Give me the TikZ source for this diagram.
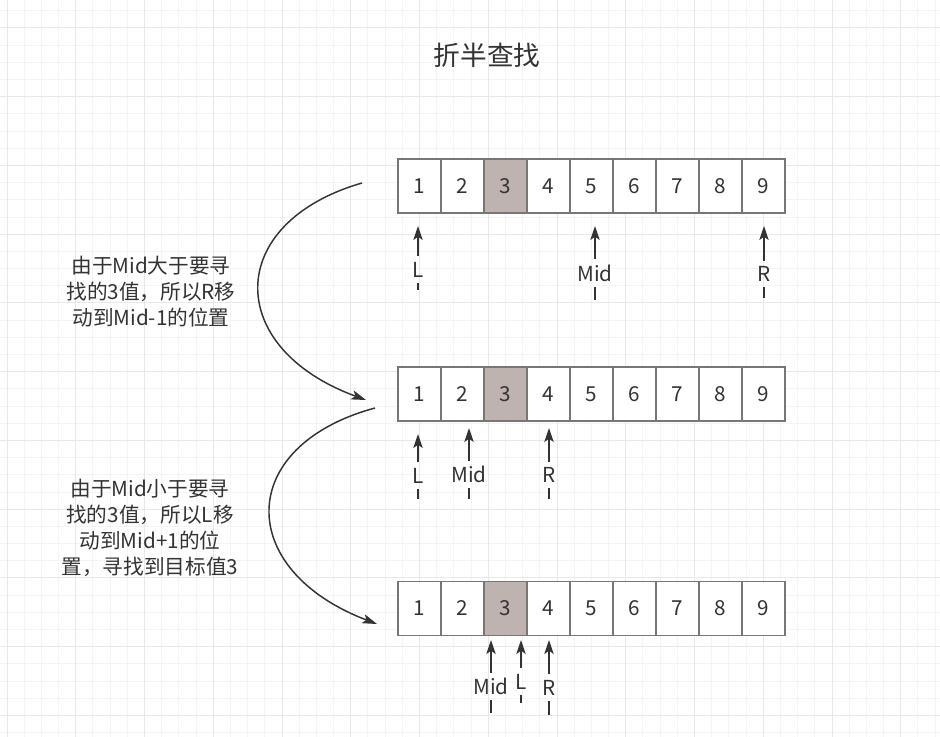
\documentclass[tikz,border=0pt]{standalone}
\usepackage{fontspec}
\setmainfont{Noto Sans CJK SC}
\usepackage{xcolor}
\usetikzlibrary{arrows.meta,positioning,calc}

\definecolor{gridminor}{HTML}{F4F4F4}
\definecolor{gridmajor}{HTML}{E8E8E8}
\definecolor{ink}{HTML}{333333}
\definecolor{cellline}{HTML}{777777}
\definecolor{cellhit}{HTML}{BEB3AF}

\tikzset{
  cell/.style={draw=cellline,line width=1pt,fill=white,minimum width=32.25pt,
    minimum height=40.5pt,inner sep=0pt,outer sep=0pt,text=ink,
    font=\fontsize{15.5}{18}\selectfont},
  hit/.style={cell,fill=cellhit},
  lbl/.style={inner xsep=1pt,inner ysep=4pt,text=ink,
    font=\fontsize{15.5}{18}\selectfont},
  ptr/.style={draw=ink,line width=1.3pt,
    -{Stealth[length=10.5pt,width=7pt,inset=2.5pt]}},
  tick/.style={draw=ink,line width=1.3pt},
  swing/.style={draw=ink,line width=1.1pt,
    -{Stealth[length=11pt,width=7pt,inset=2.5pt]}},
  note/.style={align=center,text=ink,font=\fontsize{15.5}{19.5}\selectfont}
}

\begin{document}
\begin{tikzpicture}[x=0.75pt,y=-0.75pt]
\useasboundingbox (0,0) rectangle (940,737);
\clip (0,0) rectangle (940,737);
% Background grid
\fill[white] (0,0) rectangle (940,737);
\foreach \k in {0,...,55}
  \draw[gridminor,line width=0.75pt] (7+17.1875*\k,0) -- ++(0,737);
\foreach \k in {0,...,43}
  \draw[gridminor,line width=0.75pt] (0,-6.375+17.1875*\k) -- ++(940,0);
\foreach \k in {0,...,13}
  \draw[gridmajor,line width=0.75pt] (7+68.75*\k,0) -- ++(0,737);
\foreach \k in {0,...,10}
  \draw[gridmajor,line width=0.75pt] (0,28+68.75*\k) -- ++(940,0);

% Title
\node[text=ink,font=\fontsize{20}{24}\selectfont] (title) at (487,55) {折半查找};

% Arrays
\foreach \row/\cy in {1/186,2/394,3/608.5}{
  \foreach \i in {1,...,9}{
    \ifnum\i=3
      \node[hit] (r\row c\i) at (376.5+43*\i,\cy) {\i};
    \else
      \node[cell] (r\row c\i) at (376.5+43*\i,\cy) {\i};
    \fi
  }
}

% Pointers: name/text/x/tip/label/bottom
\foreach \pname/\ptext/\pxx/\ptip/\plab/\pbot in {
    r1L/L/418/226/269.5/290, r1Mid/Mid/595/226/273/300, r1R/R/764/226/274/298,
    r2L/L/418/434/475.5/499, r2Mid/Mid/469/428/474.5/499, r2R/R/549/428/475/499,
    r3Mid/Mid/491/640/686.5/713, r3L/L/521/640/681.5/703, r3R/R/549/640/687.5/715}{
  \coordinate (\pname t) at (\pxx,\ptip);
  \coordinate (\pname b) at (\pxx,\pbot);
  \node[lbl] (\pname) at (\pxx,\plab) {\ptext};
  \draw[ptr] (\pname) -- (\pname t);
  \draw[tick] (\pname) -- (\pname b);
}

% Step arrows
\coordinate (s1a) at (362,183);
\coordinate (s1b) at (366,400);
\draw[swing] (s1a) .. controls (224,223) and (224,348) .. (s1b);
\coordinate (s2a) at (375,408);
\coordinate (s2b) at (377,624);
\draw[swing] (s2a) .. controls (235,446) and (235,570) .. (s2b);

% Notes
\node[note] (note1) at (151,292)
  {由于Mid大于要寻\\找的3值，所以R移\\动到Mid-1的位置};
\node[note] (note2) at (150,528)
  {由于Mid小于要寻\\找的3值，所以L移\\动到Mid+1的位\\置，寻找到目标值3};
\end{tikzpicture}
\end{document}
